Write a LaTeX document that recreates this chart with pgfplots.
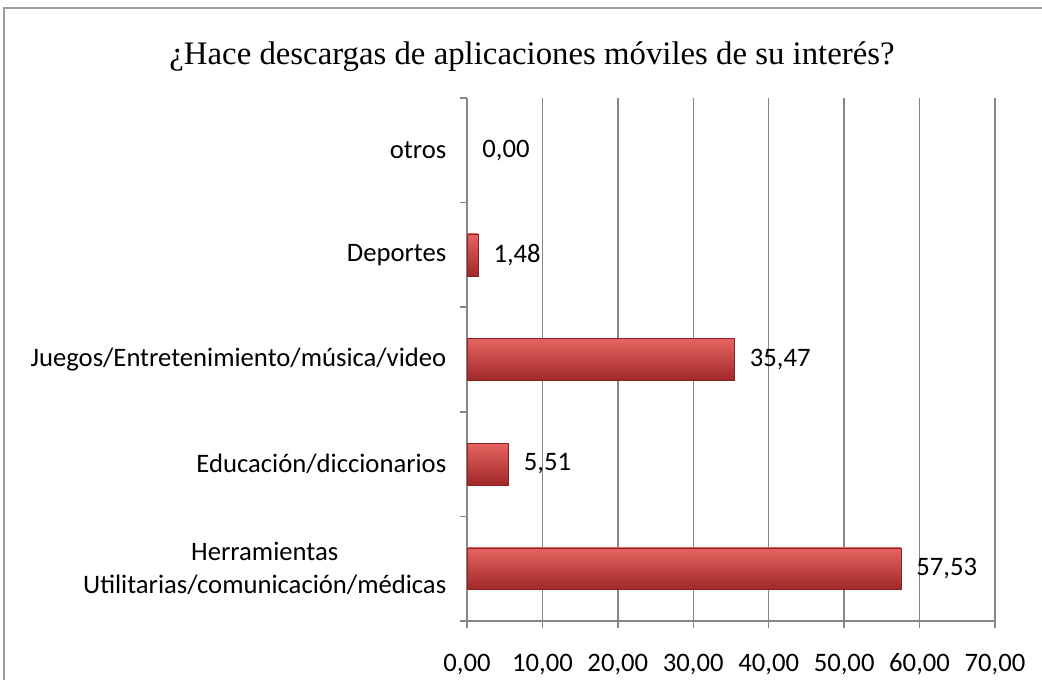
\documentclass[border=0pt]{standalone}
\usepackage{fontspec}
\setmainfont{Carlito}
\newfontfamily\titlefont{Liberation Serif}
\usepackage{pgfplots}
\pgfplotsset{compat=1.18}

\definecolor{gridgray}{RGB}{134,134,134}
\definecolor{bartop}{RGB}{230,100,98}
\definecolor{barmid}{RGB}{204,64,61}
\definecolor{barbot}{RGB}{160,40,40}
\definecolor{baredge}{RGB}{140,34,34}

\pgfplotsset{redbar/.style={draw=baredge, line width=0.4pt,
  top color=bartop, middle color=barmid, bottom color=barbot}}

\begin{document}
\begin{tikzpicture}
  % page frame, 1042x680 px at 0.75pt per px
  \path[use as bounding box] (0,0) rectangle (781.5pt,510pt);
  \draw[gridgray!80, line width=1pt] (3pt,-2pt) -- (3pt,504pt) -- (784pt,504pt);

  \node[font=\titlefont\fontsize{24.6}{30}\selectfont] at (399pt,467.25pt)
    {¿Hace descargas de aplicaciones móviles de su interés?};

  \begin{axis}[
    at={(350.25pt,44.25pt)}, anchor=south west,
    scale only axis,
    width=396pt, height=392.25pt,
    xbar, bar width=0.4, bar shift=0pt,
    xmin=0, xmax=70,
    ymin=-0.5, ymax=4.5,
    axis x line*=bottom, axis y line*=left,
    axis line style={gridgray, line width=1.1pt},
    xmajorgrids, major grid style={gridgray, line width=1.1pt},
    tick style={gridgray, line width=1.1pt},
    tick align=outside, major tick length=5.5pt,
    xtick={0,10,...,70},
    xticklabel={\pgfmathprintnumber[fixed,fixed zerofill,precision=2,use comma]{\tick}},
    xticklabel style={anchor=base, yshift=-32.5pt},
    ytick={-0.5,0.5,...,4.5}, yticklabels={},
    extra y ticks={0,1,2,3,4},
    extra y tick labels={{Herramientas\\Utilitarias/comunicación/médicas},
      Educación/diccionarios, Juegos/Entretenimiento/música/video, Deportes, otros},
    extra y tick style={major tick length=0pt,
      yticklabel style={align=center, xshift=-12pt}},
    yticklabel style={align=center},
    tick label style={font=\fontsize{20}{24.5}\selectfont},
    /pgf/number format/assume math mode=true,
    nodes near coords={\pgfmathprintnumber[fixed,fixed zerofill,precision=2,use comma,assume math mode=true]{\pgfplotspointmeta}},
    nodes near coords style={font=\fontsize{20}{24}\selectfont, anchor=west, xshift=8pt},
    point meta=x,
    clip=false,
  ]
    \addplot[redbar] coordinates {(57.53,0)};
    \addplot[redbar] coordinates {(5.51,1)};
    \addplot[redbar] coordinates {(35.47,2)};
    \addplot[redbar] coordinates {(1.48,3)};
    \addplot[draw=none, fill=none] coordinates {(0.00,4)};
  \end{axis}
\end{tikzpicture}
\end{document}
